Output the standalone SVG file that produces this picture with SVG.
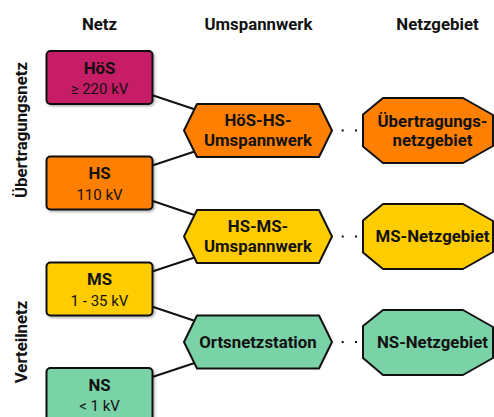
<svg xmlns="http://www.w3.org/2000/svg" width="494" height="417" viewBox="0 0 494 417">
  <defs>
    <filter id="shadow" x="-10%" y="-10%" width="130%" height="140%">
      <feDropShadow dx="1.5" dy="1.5" stdDeviation="1.2" flood-color="#000" flood-opacity="0.3"/>
    </filter>
    <style>
      text { font-family: Roboto, "Liberation Sans", Arial, sans-serif; fill: #111; }
      .head { font-size: 16.8px; font-weight: bold; text-anchor: middle; }
      .side { font-size: 16.8px; font-weight: bold; text-anchor: middle; }
      .title { font-size: 16.8px; font-weight: bold; text-anchor: middle; }
      .sub { font-size: 15px; text-anchor: middle; }
      .shape { stroke: #111; stroke-width: 2; stroke-linejoin: round; }
      .box { filter: url(#shadow); }
      .hoes { fill: #C71C66; }
      .hs { fill: #FF8000; }
      .ms { fill: #FFCC00; }
      .ns { fill: #7AD2A7; }
      .link { stroke: #111; stroke-width: 2; fill: none; }
      .dots { stroke: #111; stroke-width: 2; stroke-dasharray: 2 11.3; fill: none; }
    </style>
  </defs>

  <rect width="494" height="417" fill="#fff"/>

  <!-- column headers -->
  <g id="headers">
    <text class="head" x="99.5" y="30">Netz</text>
    <text class="head" x="258.5" y="30">Umspannwerk</text>
    <text class="head" x="437.5" y="30">Netzgebiet</text>
  </g>

  <!-- side labels -->
  <g id="side-labels">
    <text class="side" transform="translate(27,130) rotate(-90)">Übertragungsnetz</text>
    <text class="side" transform="translate(27,342) rotate(-90)">Verteilnetz</text>
  </g>

  <!-- connectors (centre to centre, drawn beneath the nodes) -->
  <g id="connectors">
    <line class="link" x1="99.5" y1="77.5" x2="258" y2="130.5"/>
    <line class="link" x1="99.5" y1="183" x2="258" y2="130.5"/>
    <line class="link" x1="99.5" y1="183" x2="258" y2="236.5"/>
    <line class="link" x1="99.5" y1="289" x2="258" y2="236.5"/>
    <line class="link" x1="99.5" y1="289" x2="258" y2="342"/>
    <line class="link" x1="99.5" y1="394.5" x2="258" y2="342"/>
    <line class="dots" x1="341.7" y1="130.5" x2="358" y2="130.5"/>
    <line class="dots" x1="341.7" y1="236.5" x2="358" y2="236.5"/>
    <line class="dots" x1="341.7" y1="342" x2="358" y2="342"/>
  </g>

  <!-- voltage levels -->
  <g id="net-hoes">
    <rect class="shape box hoes" x="46.5" y="51" width="106" height="53" rx="4"/>
    <text class="title" x="99.5" y="73.5">HöS</text>
    <text class="sub" x="99.5" y="94">≥ 220 kV</text>
  </g>
  <g id="net-hs">
    <rect class="shape box hs" x="46.5" y="156.5" width="106" height="53" rx="4"/>
    <text class="title" x="99.5" y="179">HS</text>
    <text class="sub" x="99.5" y="199.5">110 kV</text>
  </g>
  <g id="net-ms">
    <rect class="shape box ms" x="46.5" y="262.5" width="106" height="53" rx="4"/>
    <text class="title" x="99.5" y="285">MS</text>
    <text class="sub" x="99.5" y="305.5">1 - 35 kV</text>
  </g>
  <g id="net-ns">
    <rect class="shape box ns" x="46.5" y="368" width="106" height="53" rx="4"/>
    <text class="title" x="99.5" y="390.5">NS</text>
    <text class="sub" x="99.5" y="411">&lt; 1 kV</text>
  </g>

  <!-- substations -->
  <g id="uw-hoes-hs">
    <polygon class="shape hs" points="184,130.5 197,104 319,104 332,130.5 319,157 197,157"/>
    <text class="title" x="258" y="126">HöS-HS-</text>
    <text class="title" x="258" y="146">Umspannwerk</text>
  </g>
  <g id="uw-hs-ms">
    <polygon class="shape ms" points="184,236.5 197,210 319,210 332,236.5 319,263 197,263"/>
    <text class="title" x="258" y="232">HS-MS-</text>
    <text class="title" x="258" y="252">Umspannwerk</text>
  </g>
  <g id="ortsnetzstation">
    <polygon class="shape ns" points="184,342 197,315.5 319,315.5 332,342 319,368.5 197,368.5"/>
    <text class="title" x="258" y="347.7">Ortsnetzstation</text>
  </g>

  <!-- network areas -->
  <g id="gebiet-uebertragung">
    <polygon class="shape hs" points="363,114.5 383,98 463,98 493,115 493,146 463,163 383,163 363,146.5"/>
    <text class="title" x="432.5" y="126.5">Übertragungs-</text>
    <text class="title" x="432.5" y="146">netzgebiet</text>
  </g>
  <g id="gebiet-ms">
    <polygon class="shape ms" points="363,220.5 383,204 463,204 493,221 493,252 463,269 383,269 363,252.5"/>
    <text class="title" x="432.5" y="242">MS-Netzgebiet</text>
  </g>
  <g id="gebiet-ns">
    <polygon class="shape ns" points="363,326 383,310 463,310 493,327 493,358 463,375 383,375 363,358"/>
    <text class="title" x="432.5" y="347.7">NS-Netzgebiet</text>
  </g>
</svg>
